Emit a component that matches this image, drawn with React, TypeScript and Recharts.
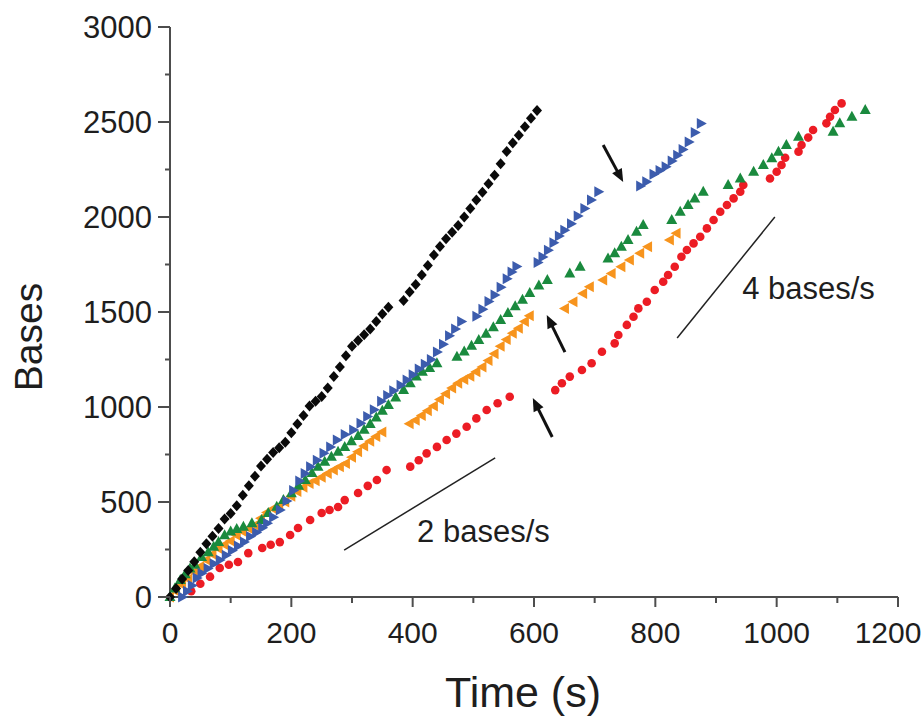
import { ScatterChart, Scatter, XAxis, YAxis, ReferenceLine } from 'recharts'

const FONT = '"Liberation Sans", Arial, Helvetica, sans-serif'
const INK = '#1e1e1e'
const AXIS = '#4d4d4d'

// axis ticks (every other one is a minor, unlabelled tick)
const timeTicks = [0, 100, 200, 300, 400, 500, 600, 700, 800, 900, 1000, 1100, 1200]
const basesTicks = [0, 250, 500, 750, 1000, 1250, 1500, 1750, 2000, 2250, 2500, 2750, 3000]

// traces: time (s) / bases
const blackTime = [0, 10, 20, 30, 40, 50, 60, 70, 80, 90, 100, 110, 120, 130, 140, 150, 160, 170, 180, 190, 200, 210, 220, 230, 240, 250, 260, 270, 280, 290, 300, 310, 320, 330, 340, 350, 360,
  385, 395, 405, 415, 425, 435, 445, 455, 465, 475, 485, 495, 505, 515, 525, 535, 545, 555, 565, 575, 585, 595, 605]
const blackBases = [0, 45, 95, 140, 185, 235, 280, 320, 360, 410, 440, 480, 535, 585, 635, 690, 725, 760, 785, 815, 865, 910, 955, 1005, 1030, 1055, 1100, 1160, 1210, 1270, 1320, 1350, 1380, 1410, 1450, 1490, 1525,
  1560, 1605, 1645, 1695, 1745, 1800, 1845, 1885, 1920, 1955, 2000, 2045, 2090, 2130, 2175, 2220, 2280, 2345, 2390, 2430, 2475, 2520, 2560]

const blueTime = [20, 28, 36, 44, 52, 62, 72, 82, 92, 102, 112, 122, 132, 142, 152, 160, 170, 181, 192, 203, 213, 222, 231, 242, 253, 264, 275, 288, 302, 314, 325, 336, 348, 358, 368, 380, 390, 400, 410, 420, 430, 440, 450, 460, 470, 480,
  505, 515, 525, 535, 545, 555, 563, 571,
  606, 614, 623, 632, 641, 650, 661, 672, 683, 694, 706,
  775, 785, 797, 807, 817, 827, 836, 845, 855, 865, 875]
const blueBases = [0, 30, 60, 100, 125, 150, 175, 195, 220, 245, 268, 290, 318, 340, 365, 388, 420, 458, 505, 560, 610, 650, 686, 720, 756, 790, 826, 855, 879, 915, 950, 985, 1030, 1060, 1085, 1115, 1142, 1170, 1200, 1225, 1250, 1290, 1330, 1375, 1410, 1450,
  1478, 1515, 1555, 1590, 1630, 1675, 1710, 1740,
  1760, 1790, 1825, 1865, 1900, 1930, 1965, 2005, 2045, 2090, 2133,
  2163, 2185, 2225, 2245, 2265, 2295, 2325, 2355, 2395, 2445, 2492]

const greenTime = [0, 8, 17, 25, 33, 41, 52, 63, 72, 80, 90, 100, 110, 121, 135, 151, 162, 176, 187, 200, 212, 223, 234, 244, 255, 266, 277, 288, 299, 310, 320, 330, 340, 350, 360, 372, 385, 396, 406, 416, 428, 440,
  473, 485, 497, 509, 521, 533, 545, 557, 569, 581, 593, 608, 622,
  659, 676,
  722, 733, 744, 755, 769, 780,
  827, 841, 854, 865, 879,
  920, 940, 962, 978, 992, 1003, 1016, 1036,
  1093, 1104, 1124, 1146]
const greenBases = [0, 45, 90, 120, 150, 170, 210, 235, 265, 290, 325, 345, 358, 370, 388, 405, 442, 475, 510, 546, 585, 616, 652, 686, 712, 738, 765, 790, 820, 848, 880, 910, 945, 980, 1010, 1050, 1089, 1125, 1160, 1185, 1205, 1230,
  1265, 1292, 1322, 1352, 1385, 1420, 1458, 1495, 1530, 1565, 1600, 1640, 1668,
  1703, 1738,
  1782, 1809, 1844, 1879, 1923, 1958,
  1984, 2028, 2063, 2098, 2133,
  2168, 2203, 2238, 2274, 2309, 2344, 2379, 2423,
  2449, 2493, 2528, 2563]

const orangeTime = [0, 10, 20, 30, 40, 50, 60, 70, 80, 90, 100, 110, 120, 130, 140, 150, 160, 170, 180, 190, 200, 210, 220, 230, 240, 250, 260, 270, 280, 290, 300, 310, 320, 330, 340, 350,
  395, 405, 415, 425, 435, 445, 455, 465, 475, 485, 495, 505, 515, 525, 535, 545, 555, 565, 575, 585, 593,
  651, 665, 681, 692, 714, 728, 744, 758, 775, 788,
  824, 835]
const orangeBases = [0, 30, 65, 95, 130, 160, 195, 225, 255, 275, 295, 325, 345, 360, 378, 415, 445, 465, 480, 500, 530, 555, 578, 598, 612, 630, 650, 668, 685, 702, 735, 765, 795, 820, 845, 868,
  912, 930, 955, 980, 1005, 1040, 1070, 1100, 1125, 1145, 1162, 1185, 1210, 1245, 1280, 1320, 1355, 1388, 1415, 1450, 1480,
  1519, 1554, 1598, 1633, 1668, 1703, 1738, 1774, 1809, 1844,
  1879, 1914]

const redTime = [35, 50, 66, 82, 97, 112, 129, 152, 166, 181, 198, 211, 231, 250, 263, 277, 288, 310, 326, 341, 357,
  396, 410, 423, 440, 456, 472, 489, 505, 522, 540, 560,
  635, 646, 659, 679, 695, 712, 733, 739, 753, 764, 772, 786, 799, 813, 821, 832, 843, 852, 863, 874, 885, 896, 907, 918, 929, 940, 945,
  989, 1000, 1008, 1014,
  1036, 1041, 1052, 1060,
  1082, 1088, 1096, 1107]
const redBases = [30, 70, 107, 153, 170, 184, 231, 258, 275, 289, 326, 363, 405, 442, 458, 474, 510, 547, 585, 616, 668,
  686, 720, 756, 790, 826, 860, 896, 940, 984, 1020, 1054,
  1089, 1125, 1160, 1195, 1230, 1291, 1335, 1379, 1432, 1475, 1519, 1554, 1616, 1659, 1695, 1738, 1791, 1826, 1861, 1896, 1940, 1984, 2028, 2063, 2098, 2133, 2168,
  2203, 2238, 2274, 2312,
  2344, 2379, 2418, 2458,
  2493, 2528, 2563, 2598]

// annotations, in data units: guide slopes and pause arrows (tail -> tip)
const slope2 = [{ x: 287, y: 247 }, { x: 536, y: 732 }]
const slope4 = [{ x: 836, y: 1363 }, { x: 997, y: 2000 }]
const arrows = [
  [{ x: 714, y: 2379 }, { x: 747, y: 2184 }],
  [{ x: 651, y: 1289 }, { x: 621, y: 1484 }],
  [{ x: 630, y: 842 }, { x: 598, y: 1047 }],
]

const pts = (ts: number[], bs: number[]) => ts.map((t, i) => ({ t, b: bs[i] }))

const diamond = (color: string) => ({ cx, cy }: any) => (
  <path d={`M${cx} ${cy - 5.5}L${cx + 5} ${cy}L${cx} ${cy + 5.5}L${cx - 5} ${cy}Z`} fill={color} />
)
const triUp = (color: string) => ({ cx, cy }: any) => (
  <path d={`M${cx} ${cy - 6}L${cx + 5.5} ${cy + 4}L${cx - 5.5} ${cy + 4}Z`} fill={color} />
)
const triRight = (color: string) => ({ cx, cy }: any) => (
  <path d={`M${cx + 6} ${cy}L${cx - 4} ${cy - 5.5}L${cx - 4} ${cy + 5.5}Z`} fill={color} />
)
const triLeft = (color: string) => ({ cx, cy }: any) => (
  <path d={`M${cx - 6} ${cy}L${cx + 4} ${cy - 5.5}L${cx + 4} ${cy + 5.5}Z`} fill={color} />
)
const dot = (color: string) => ({ cx, cy }: any) => <circle cx={cx} cy={cy} r={4.3} fill={color} />

const TimeTick = ({ x, y, payload }: any) => {
  const major = payload.value % 200 === 0
  // keep the last label inside the frame, as in the original
  const tx = Math.min(x, 923 - 35)
  return (
    <g>
      <line x1={x} x2={x} y1={y} y2={y + (major ? 10 : 6)} stroke={AXIS} strokeWidth={2} />
      {major && (
        <text x={tx} y={y + 46} textAnchor="middle" fontSize={30} fill={INK} fontFamily={FONT}>
          {payload.value}
        </text>
      )}
    </g>
  )
}

const BasesTick = ({ x, y, payload }: any) => {
  const major = payload.value % 500 === 0
  return (
    <g>
      <line x1={x} x2={x - (major ? 12 : 5)} y1={y} y2={y} stroke={AXIS} strokeWidth={2} />
      {major && (
        <text x={x - 18} y={y + 11} textAnchor="end" fontSize={31} fill={INK} fontFamily={FONT}>
          {payload.value}
        </text>
      )}
    </g>
  )
}

const Arrow = ({ x1, y1, x2, y2 }: any) => {
  const dx = x2 - x1
  const dy = y2 - y1
  const len = Math.hypot(dx, dy)
  const ux = dx / len
  const uy = dy / len
  const head = 13
  const bx = x2 - ux * head
  const by = y2 - uy * head
  return (
    <g>
      <line x1={x1} y1={y1} x2={bx + ux * 2} y2={by + uy * 2} stroke="#111" strokeWidth={3} />
      <path d={`M${x2} ${y2}L${bx - uy * 5.5} ${by + ux * 5.5}L${bx + uy * 5.5} ${by - ux * 5.5}Z`} fill="#111" />
    </g>
  )
}

export default function App() {
  return (
    <div style={{ position: 'absolute', left: 0, top: 0, background: '#fff' }}>
      <ScatterChart width={923} height={716} margin={{ top: 27, right: 25, bottom: 0, left: 0 }}>
        <XAxis
          type="number"
          dataKey="t"
          domain={[0, 1200]}
          ticks={timeTicks}
          interval={0}
          height={119}
          tickSize={0}
          tickMargin={0}
          tickLine={false}
          tick={<TimeTick />}
          axisLine={{ stroke: AXIS, strokeWidth: 2 }}
          label={({ viewBox }: any) => (
            <text x={viewBox.x + viewBox.width / 2 - 11} y={707} textAnchor="middle" fontSize={43} fill={INK} fontFamily={FONT}>
              Time (s)
            </text>
          )}
        />
        <YAxis
          type="number"
          dataKey="b"
          domain={[0, 3000]}
          ticks={basesTicks}
          interval={0}
          width={170}
          tickSize={0}
          tickMargin={0}
          tickLine={false}
          tick={<BasesTick />}
          axisLine={{ stroke: AXIS, strokeWidth: 2 }}
          label={({ viewBox }: any) => {
            const cy = viewBox.y + viewBox.height / 2 + 25
            return (
              <text x={42} y={cy} transform={`rotate(-90, 42, ${cy})`} textAnchor="middle" fontSize={39} fill={INK} fontFamily={FONT}>
                Bases
              </text>
            )
          }}
        />

        <ReferenceLine
          segment={slope2}
          stroke="#222"
          strokeWidth={1.5}
          label={({ viewBox }: any) => (
            <text x={viewBox.x + 73} y={viewBox.y + 84} fontSize={31} fill={INK} fontFamily={FONT}>
              2 bases/s
            </text>
          )}
        />
        <ReferenceLine
          segment={slope4}
          stroke="#222"
          strokeWidth={1.5}
          label={({ viewBox }: any) => (
            <text x={viewBox.x + 65} y={viewBox.y + 82} fontSize={31} fill={INK} fontFamily={FONT}>
              4 bases/s
            </text>
          )}
        />
        {arrows.map((seg, i) => (
          <ReferenceLine key={i} segment={seg} shape={Arrow} />
        ))}

        <Scatter data={pts(redTime, redBases)} shape={dot('#ec1c24')} isAnimationActive={false} />
        <Scatter data={pts(orangeTime, orangeBases)} shape={triLeft('#f7941d')} isAnimationActive={false} />
        <Scatter data={pts(greenTime, greenBases)} shape={triUp('#1a8a3e')} isAnimationActive={false} />
        <Scatter data={pts(blueTime, blueBases)} shape={triRight('#3c5cad')} isAnimationActive={false} />
        <Scatter data={pts(blackTime, blackBases)} shape={diamond('#0a0a0a')} isAnimationActive={false} />
      </ScatterChart>
    </div>
  )
}
